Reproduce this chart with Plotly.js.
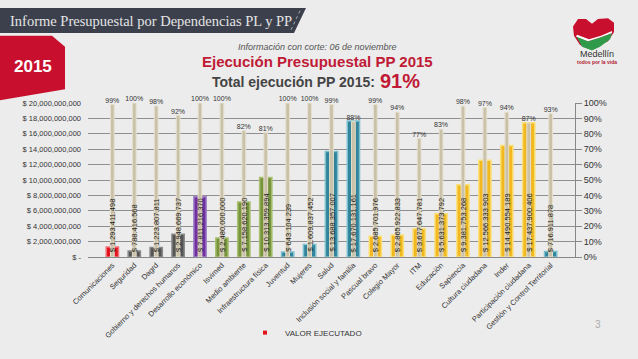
<!DOCTYPE html>
<html><head><meta charset="utf-8">
<script src="https://cdn.plot.ly/plotly-3.0.1.min.js"></script>
<style>html,body{margin:0;padding:0;background:#ececec;}#chart{width:638px;height:359px;}</style>
</head><body><div id="chart"></div>
<script>
const categories = ["Comunicaciones","Seguridad","Dagrd","Gobierno y derechos humanos","Desarrollo económico","Isvimed","Medio ambiente","Infraestructura física","Juventud","Mujeres","Salud","Inclusión social y familia","Pascual bravo","Colegio Mayor","ITM","Educación","Sapiencia","Cultura ciudadana","Inder","Participación ciudadana","Gestión y Control Territorial"];
const executed = [1293411498,788416568,1223807811,2948669737,7811216370,2480000000,7158620190,10313359894,643104239,1609837452,13688357007,17670131161,2685701976,2865922833,3677647781,5631373792,9381753268,12566333903,14490554189,17437900406,716911878];
const pctExec = [99,100,98,92,100,100,82,81,100,100,99,88,99,94,77,83,98,97,94,87,93];
const groupColors = ["#e3121b","#555555","#555555","#555555","#7030a0","#77933c","#77933c","#77933c","#31849b","#31849b","#31849b","#31849b","#f2b820","#f2b820","#f2b820","#f2b820","#f2b820","#f2b820","#f2b820","#f2b820","#31849b"];
const lineColors = ["#f07078","#8a8a8a","#8a8a8a","#8a8a8a","#a080c8","#a8c070","#a8c070","#a8c070","#7cc0d0","#7cc0d0","#7cc0d0","#7cc0d0","#fbe07a","#fbe07a","#fbe07a","#fbe07a","#fbe07a","#fbe07a","#fbe07a","#fbe07a","#7cc0d0"];
const leftTicks = [0,2e9,4e9,6e9,8e9,10e9,12e9,14e9,16e9,18e9,20e9];
const rightTicks = [0,10,20,30,40,50,60,70,80,90,100];

function fmtDot(v){return "$ " + Math.round(v).toString().replace(/\B(?=(\d{3})+(?!\d))/g,".");}
function fmtComma(v){return v===0 ? "$ -" : "$ " + Math.round(v).toString().replace(/\B(?=(\d{3})+(?!\d))/g,",");}

const W=487, H=167, L=88, T=103;
const px = X => (X-L)/W;
const py = Y => (T+H-Y)/H;

const traces = [
 {type:'bar', name:'VALOR EJECUTADO', x:categories, y:executed, width:0.56,
  marker:{color:groupColors, line:{color:lineColors, width:1.5}}, hoverinfo:'none', showlegend:false},
 {type:'bar', name:'% ejecución', x:categories, y:pctExec, yaxis:'y2', width:0.17,
  marker:{color:"#c9c1a9", line:{color:"#e6e0cc", width:1}}, hoverinfo:'none', showlegend:false},
 {type:'scatter', mode:'text', x:categories, y:pctExec, yaxis:'y2', text:pctExec.map(p=>p+"%"),
  textposition:'top center', textfont:{size:7, color:"#333", family:"Arial, Liberation Sans"}, hoverinfo:'none', showlegend:false, cliponaxis:false},
 {type:'scatter', mode:'markers', name:'VALOR EJECUTADO', x:[null], y:[null], marker:{symbol:'square', size:4, color:"#e3121b"}, showlegend:true, hoverinfo:'none'}
];

const annotations = categories.map((c,i)=>({x:c, y:0, xref:'x', yref:'y', text:fmtDot(executed[i]), textangle:-90,
  showarrow:false, yanchor:'bottom', xanchor:'center', yshift:3, font:{size:7.5, color:"#222", family:"Arial, Liberation Sans"}}));

annotations.push(
 {xref:'paper', yref:'paper', x:px(8), y:py(14), xanchor:'left', yanchor:'middle', showarrow:false,
  text:"Informe Presupuestal por Dependencias PL y PP", font:{family:"Liberation Serif, DejaVu Serif, serif", size:14.5, color:"#e4e4e4"}},
 {xref:'paper', yref:'paper', x:px(33), y:py(63), xanchor:'center', yanchor:'middle', showarrow:false,
  text:"<b>2015</b>", font:{family:"Arial, Liberation Sans", size:17, color:"#ffffff"}},
 {xref:'paper', yref:'paper', x:px(317), y:py(42), xanchor:'center', yanchor:'middle', showarrow:false,
  text:"<i>Información con corte: 06 de noviembre</i>", font:{family:"Arial, Liberation Sans", size:9, color:"#555"}},
 {xref:'paper', yref:'paper', x:px(317), y:py(57.5), xanchor:'center', yanchor:'middle', showarrow:false,
  text:"<b>Ejecución Presupuestal PP 2015</b>", font:{family:"Arial, Liberation Sans", size:15, color:"#c01a36"}},
 {xref:'paper', yref:'paper', x:px(377), y:py(80), xanchor:'right', yanchor:'middle', showarrow:false,
  text:"<b>Total ejecución PP 2015:</b>", font:{family:"Arial, Liberation Sans", size:14, color:"#444"}},
 {xref:'paper', yref:'paper', x:px(378), y:py(79.5), xanchor:'left', yanchor:'middle', showarrow:false,
  text:"<b>91%</b>", font:{family:"Arial, Liberation Sans", size:20, color:"#c01a36"}},
 {xref:'paper', yref:'paper', x:px(597), y:py(50), xanchor:'center', yanchor:'middle', showarrow:false,
  text:"Medellín", font:{family:"Arial, Liberation Sans", size:9, color:"#333"}},
 {xref:'paper', yref:'paper', x:px(597), y:py(58), xanchor:'center', yanchor:'middle', showarrow:false,
  text:"<b>todos por la vida</b>", font:{family:"Arial, Liberation Sans", size:5, color:"#b01a30"}},
 {xref:'paper', yref:'paper', x:px(598), y:py(343), xanchor:'center', yanchor:'middle', showarrow:false,
  text:"3", font:{family:"Arial, Liberation Sans", size:10, color:"#aaa"}}
);

function pathPx(pts){return pts.map((p,i)=>(i?'L':'M')+px(p[0]).toFixed(4)+','+py(p[1]).toFixed(4)).join(' ')+' Z';}

const shapes = [
 {type:'path', xref:'paper', yref:'paper', path:pathPx([[0,0],[306,0],[294,27],[0,27]]), fillcolor:"#3c404d", line:{width:0}, layer:'below'},
 {type:'line', xref:'paper', yref:'paper', x0:px(300), y0:py(3), x1:px(290), y1:py(26), line:{color:"#9aa", width:1, dash:'dot'}},
 {type:'path', xref:'paper', yref:'paper', path:pathPx([[0,30],[52,30],[65,42],[65,88],[0,100]]), fillcolor:"#c8102e", line:{width:0}, layer:'below'},
 {type:'path', xref:'paper', yref:'paper', path:pathPx([[580,40],[574,30],[573,20],[578,12],[586,12],[592,17],[598,12],[608,11],[614,16],[614,26],[608,36],[596,42],[586,42]]), fillcolor:"#c8102e", line:{width:0}},
 {type:'path', xref:'paper', yref:'paper', path:pathPx([[576,30],[588,36],[600,32],[612,27],[610,34],[600,42],[592,46],[582,42]]), fillcolor:"#2e9a4a", line:{width:0}},
 {type:'path', xref:'paper', yref:'paper', path:pathPx([[577,29],[589,34],[601,30],[612,25],[612,27],[600,32],[588,36],[576,31]]), fillcolor:"#ffffff", line:{width:0}}
];

const layout = {
 width:638, height:359, paper_bgcolor:"#ececec", plot_bgcolor:"#ececec",
 margin:{l:L, r:638-L-W, t:T, b:359-T-H, pad:0},
 barmode:'overlay', bargap:0,
 font:{family:"Arial, Liberation Sans", size:8, color:"#333"},
 xaxis:{type:'category', tickangle:-45, tickfont:{size:7.5, color:"#333"}, showgrid:false, ticks:'', showline:true, linecolor:"#888", linewidth:1, automargin:false},
 yaxis:{range:[0,20e9], tickvals:leftTicks, ticktext:leftTicks.map(fmtComma), tickfont:{size:7.5, color:"#333"}, showgrid:true, gridcolor:"#8f8f8f", gridwidth:1, zeroline:false, ticks:'', automargin:false, ticklabelstandoff:6},
 yaxis2:{range:[0,100], overlaying:'y', side:'right', tickvals:rightTicks, ticktext:rightTicks.map(t=>t+"%"), tickfont:{size:9, color:"#333"}, showgrid:false, zeroline:false, ticks:'outside', ticklen:6, tickcolor:"#888", showline:true, linecolor:"#888", automargin:false},
 showlegend:true,
 legend:{orientation:'h', x:px(245), xanchor:'left', y:py(352), yanchor:'middle', font:{size:8, color:"#333"}, bgcolor:'rgba(0,0,0,0)', itemwidth:30},
 annotations:annotations, shapes:shapes
};

Plotly.newPlot('chart', traces, layout, {staticPlot:true, displayModeBar:false});
</script></body></html>
